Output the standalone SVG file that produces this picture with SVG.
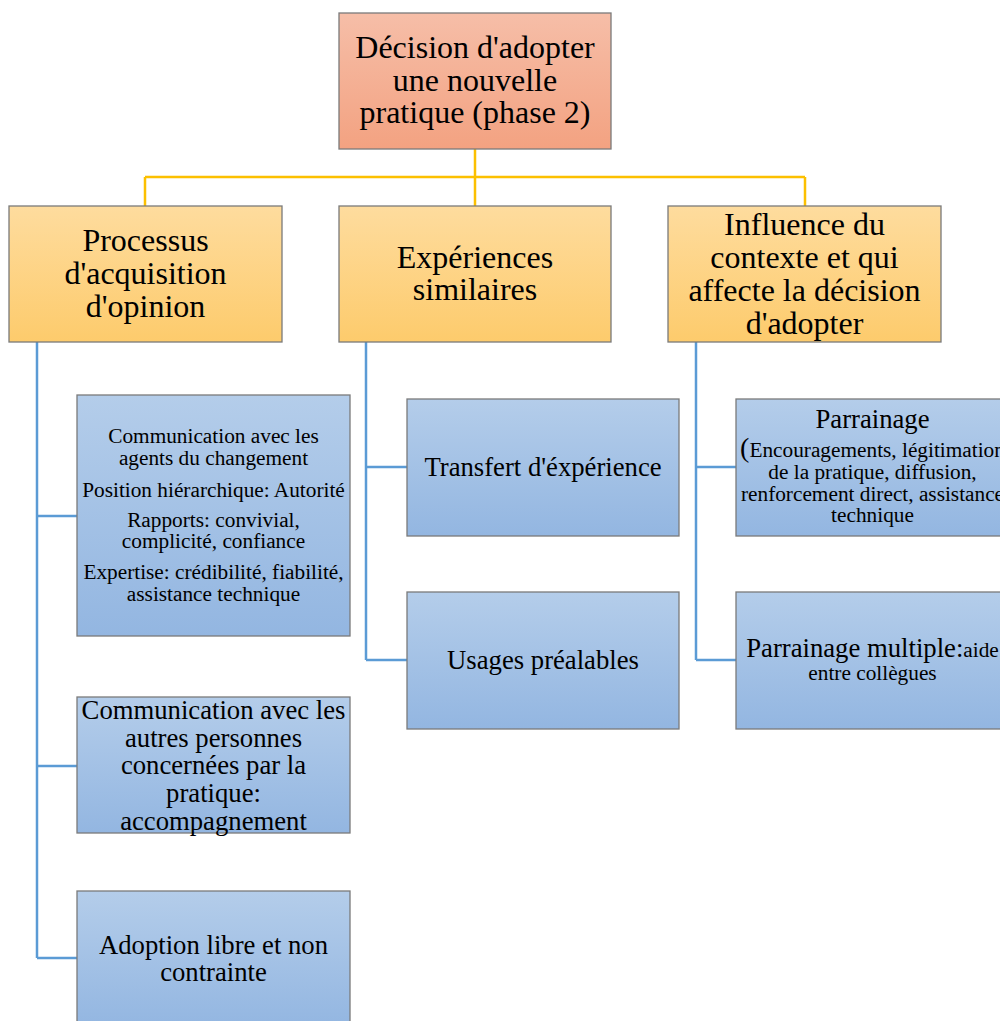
<svg xmlns="http://www.w3.org/2000/svg" width="1000" height="1021" viewBox="0 0 1000 1021">
<defs>
<linearGradient id="gr" x1="0" y1="0" x2="0" y2="1"><stop offset="0" stop-color="#f6bea8"/><stop offset="1" stop-color="#f3a281"/></linearGradient>
<linearGradient id="gy" x1="0" y1="0" x2="0" y2="1"><stop offset="0" stop-color="#fedc9e"/><stop offset="1" stop-color="#fdcb6c"/></linearGradient>
<linearGradient id="gb" x1="0" y1="0" x2="0" y2="1"><stop offset="0" stop-color="#b4cdea"/><stop offset="1" stop-color="#93b6e1"/></linearGradient>
</defs>
<style>
rect{stroke:#7a7a7a;stroke-width:1.3}
.r{fill:url(#gr)} .y{fill:url(#gy)} .b{fill:url(#gb)}
text{fill:#000;text-anchor:middle}
.t28{font-size:32px} .t24{font-size:26.7px} .t19{font-size:21.3px}
.cy{fill:none;stroke:#fcc000;stroke-width:2.5}
.cb{fill:none;stroke:#5b9bd5;stroke-width:2.5}
</style>
<rect width="1000" height="1021" fill="#fff" style="stroke:none"/>
<g id="connectors">
<path class="cy" d="M475 149V206M145 177H805M145 177V206M805 177V206"/>
<path class="cb" d="M37 342V958M37 516H77M37 766H77M37 958H77"/>
<path class="cb" d="M366 342V660M366 467H407M366 660H407"/>
<path class="cb" d="M696 342V660M696 467H736M696 660H736"/>
</g>
<g font-family="Liberation Serif, Times New Roman, serif">
<g id="n-root"><rect class="r" x="339" y="13" width="272" height="136"/>
<text class="t28" x="475" y="58">Décision d'adopter</text><text class="t28" x="475" y="91">une nouvelle</text><text class="t28" x="475" y="123">pratique (phase 2)</text></g>
<g id="n-processus"><rect class="y" x="9" y="206" width="273" height="136"/>
<text class="t28" x="145.5" y="251">Processus</text><text class="t28" x="145.5" y="284">d'acquisition</text><text class="t28" x="145.5" y="317">d'opinion</text></g>
<g id="n-experiences"><rect class="y" x="339" y="206" width="272" height="136"/>
<text class="t28" x="475" y="268">Expériences</text><text class="t28" x="475" y="300">similaires</text></g>
<g id="n-influence"><rect class="y" x="668" y="206" width="273" height="136"/>
<text class="t28" x="804.5" y="235">Influence du</text><text class="t28" x="804.5" y="268">contexte et qui</text><text class="t28" x="804.5" y="301">affecte la décision</text><text class="t28" x="804.5" y="334">d'adopter</text></g>
<g id="n-communication-agents"><rect class="b" x="77" y="395" width="273" height="241"/>
<text class="t19" x="213.5" y="443">Communication avec les</text><text class="t19" x="213.5" y="465">agents du changement</text>
<text class="t19" x="213.5" y="497">Position hiérarchique: Autorité</text>
<text class="t19" x="213.5" y="527">Rapports: convivial,</text><text class="t19" x="213.5" y="548">complicité, confiance</text>
<text class="t19" x="213.5" y="579">Expertise: crédibilité, fiabilité,</text><text class="t19" x="213.5" y="601">assistance technique</text></g>
<g id="n-communication-autres"><rect class="b" x="77" y="697" width="273" height="136"/>
<text class="t24" x="213.5" y="719">Communication avec les</text><text class="t24" x="213.5" y="747">autres personnes</text><text class="t24" x="213.5" y="774">concernées par la</text><text class="t24" x="213.5" y="802">pratique:</text><text class="t24" x="213.5" y="830">accompagnement</text></g>
<g id="n-adoption"><rect class="b" x="77" y="891" width="273" height="136"/>
<text class="t24" x="213.5" y="954">Adoption libre et non</text><text class="t24" x="213.5" y="981">contrainte</text></g>
<g id="n-transfert"><rect class="b" x="407" y="399" width="272" height="137"/>
<text class="t24" x="543" y="476">Transfert d'éxpérience</text></g>
<g id="n-usages"><rect class="b" x="407" y="592" width="272" height="137"/>
<text class="t24" x="543" y="669">Usages préalables</text></g>
<g id="n-parrainage"><rect class="b" x="736" y="399" width="273" height="137"/>
<text class="t24" x="872.5" y="428">Parrainage</text>
<text class="t19" x="872.5" y="457"><tspan font-size="28px">(</tspan>Encouragements, légitimation</text>
<text class="t19" x="872.5" y="479">de la pratique, diffusion,</text>
<text class="t19" x="872.5" y="501">renforcement direct, assistance</text>
<text class="t19" x="872.5" y="522">technique</text></g>
<g id="n-parrainage-multiple"><rect class="b" x="736" y="592" width="273" height="137"/>
<text class="t24" x="872.5" y="657">Parrainage multiple:<tspan font-size="21.3px">aide</tspan></text>
<text class="t19" x="872.5" y="680">entre collègues</text></g>
</g>
</svg>
